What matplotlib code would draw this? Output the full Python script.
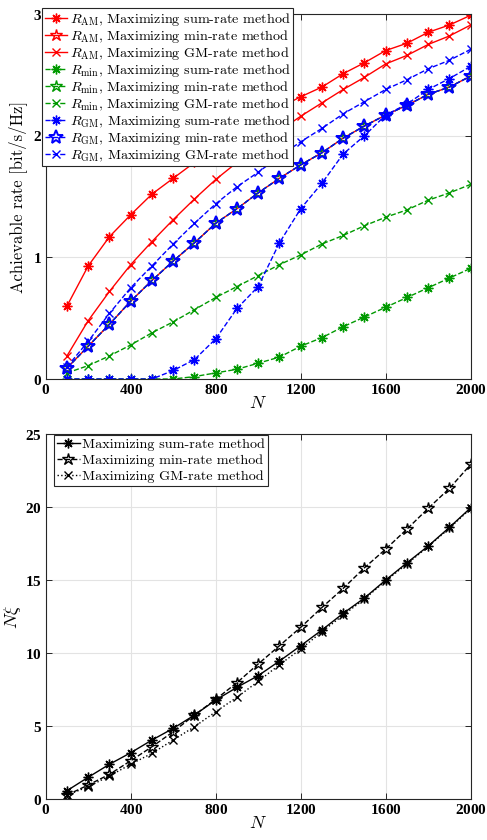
import numpy as np
import matplotlib
matplotlib.use("Agg")
import matplotlib.pyplot as plt

# Datos
N = [100, 200, 300, 400, 500, 600, 700, 800, 900, 1000,
     1100, 1200, 1300, 1400, 1500, 1600, 1700, 1800, 1900, 2000]

# Tasas alcanzables (grafica superior)
am_sum = [0.60, 0.93, 1.17, 1.35, 1.52, 1.65, 1.78, 1.90, 2.02, 2.13,
          2.23, 2.32, 2.40, 2.51, 2.60, 2.70, 2.76, 2.85, 2.91, 2.99]
am_gm = [0.19, 0.48, 0.72, 0.94, 1.13, 1.31, 1.48, 1.64, 1.78, 1.92,
         2.04, 2.16, 2.27, 2.38, 2.48, 2.59, 2.66, 2.75, 2.82, 2.91]
# Con max-min todas las tasas son iguales: AM = min = GM
eq_min = [0.09, 0.27, 0.45, 0.64, 0.81, 0.97, 1.12, 1.28, 1.40, 1.53,
          1.65, 1.76, 1.86, 1.98, 2.08, 2.17, 2.25, 2.34, 2.40, 2.49]
min_sum = [0.0, 0.0, 0.0, 0.0, 0.0, 0.0, 0.02, 0.05, 0.08, 0.13,
           0.18, 0.27, 0.34, 0.43, 0.51, 0.59, 0.67, 0.75, 0.83, 0.91]
min_gm = [0.05, 0.11, 0.19, 0.28, 0.38, 0.47, 0.57, 0.67, 0.76, 0.85,
          0.94, 1.02, 1.11, 1.18, 1.26, 1.33, 1.39, 1.47, 1.53, 1.60]
gm_sum = [0.0, 0.0, 0.0, 0.0, 0.0, 0.07, 0.16, 0.33, 0.58, 0.76,
          1.12, 1.40, 1.61, 1.85, 2.00, 2.17, 2.26, 2.38, 2.47, 2.57]
gm_gm = [0.10, 0.31, 0.54, 0.75, 0.93, 1.11, 1.28, 1.44, 1.58, 1.70,
         1.83, 1.95, 2.06, 2.18, 2.28, 2.38, 2.46, 2.55, 2.62, 2.71]

# N*xi (grafica inferior)
nxi_sum = [0.57, 1.49, 2.38, 3.17, 4.04, 4.84, 5.75, 6.78, 7.65, 8.45,
           9.45, 10.50, 11.58, 12.72, 13.77, 15.00, 16.18, 17.33, 18.61, 19.95]
nxi_min = [0.27, 0.96, 1.69, 2.62, 3.58, 4.61, 5.75, 6.83, 7.97, 9.25,
           10.50, 11.76, 13.12, 14.43, 15.84, 17.12, 18.49, 19.91, 21.28, 22.92]
nxi_gm = [0.27, 0.84, 1.58, 2.38, 3.13, 4.04, 4.95, 5.98, 6.97, 8.06,
          9.20, 10.27, 11.46, 12.60, 13.70, 14.95, 16.10, 17.30, 18.55, 19.90]

plt.rcParams["mathtext.fontset"] = "cm"
plt.rcParams["axes.formatter.use_mathtext"] = True

ASTER = (8, 2, 0)
VERDE = "#009900"
tick_font = {"family": "Liberation Serif", "weight": "bold", "size": 11}
leg_font = {"family": "cmr10", "size": 10.2}


def estilo_ejes(ax, yticks, ylim):
    ax.set_xlim(0, 2000)
    ax.set_ylim(*ylim)
    ax.set_xticks([0, 400, 800, 1200, 1600, 2000])
    ax.set_yticks(yticks)
    ax.grid(True, color="#e3e3e3", linewidth=0.8)
    ax.set_axisbelow(True)
    ax.tick_params(direction="in", top=True, right=True, length=4,
                   width=0.7, color="#262626", pad=3)
    for lab in ax.get_xticklabels() + ax.get_yticklabels():
        lab.set_fontproperties(tick_font)
    for s in ax.spines.values():
        s.set_color("#262626")
        s.set_linewidth(0.8)


fig = plt.figure(figsize=(4.87, 8.40), dpi=100)

# Grafica superior
ax1 = fig.add_axes([0.0939, 0.5488, 0.8727, 0.4345])
ka = dict(linewidth=1.0, markersize=7, markeredgewidth=1.0)   # asterisco
kx = dict(linewidth=1.0, markersize=6, markeredgewidth=1.0)   # cruz
ks = dict(linewidth=1.0, markersize=9, markeredgewidth=1.0, mfc="none")  # estrella
ax1.plot(N, am_sum, "-", color="red", marker=ASTER, label=r"$R_{\rm AM}$, Maximizing sum-rate method", **ka)
ax1.plot(N, eq_min, "-", color="red", marker="*", label=r"$R_{\rm AM}$, Maximizing min-rate method", **ks)
ax1.plot(N, am_gm, "-", color="red", marker="x", label=r"$R_{\rm AM}$, Maximizing GM-rate method", **kx)
ax1.plot(N, min_sum, "--", color=VERDE, marker=ASTER, label=r"$R_{\rm min}$, Maximizing sum-rate method", **ka)
ax1.plot(N, eq_min, "--", color=VERDE, marker="*", label=r"$R_{\rm min}$, Maximizing min-rate method", **ks)
ax1.plot(N, min_gm, "--", color=VERDE, marker="x", label=r"$R_{\rm min}$, Maximizing GM-rate method", **kx)
ax1.plot(N, gm_sum, "--", color="blue", marker=ASTER, label=r"$R_{\rm GM}$, Maximizing sum-rate method", **ka)
ax1.plot(N, eq_min, "--", color="blue", marker="*", mfc="none", markersize=10, linewidth=1.0, markeredgewidth=1.4,
         label=r"$R_{\rm GM}$, Maximizing min-rate method")
ax1.plot(N, gm_gm, "--", color="blue", marker="x", label=r"$R_{\rm GM}$, Maximizing GM-rate method", **kx)
estilo_ejes(ax1, [0, 1, 2, 3], (0, 3))
ax1.set_xlabel(r"$N$", fontsize=13, labelpad=-2)
ax1.set_ylabel("Achievable rate [bit/s/Hz]", fontfamily="cmr10", fontsize=12, labelpad=4)
leg1 = ax1.legend(loc="upper left", bbox_to_anchor=(-0.009, 1.017), prop=leg_font,
                  handlelength=1.6, handletextpad=0.15, labelspacing=0.0,
                  borderpad=0.2, borderaxespad=0, fancybox=False, framealpha=1,
                  edgecolor="#262626")
leg1.get_frame().set_linewidth(0.8)

# Grafica inferior
ax2 = fig.add_axes([0.0939, 0.0488, 0.8727, 0.4345])
ax2.plot(N, nxi_sum, "-", color="black", marker=ASTER, label="Maximizing sum-rate method", **ka)
ax2.plot(N, nxi_min, "--", color="black", marker="*", label="Maximizing min-rate method", **ks)
ax2.plot(N, nxi_gm, ":", color="black", marker="x", label="Maximizing GM-rate method", **kx)
estilo_ejes(ax2, [0, 5, 10, 15, 20, 25], (0, 25))
ax2.set_xlabel(r"$N$", fontsize=13, labelpad=-2)
ax2.set_ylabel(r"$N\xi$", fontsize=13, labelpad=1)
leg2 = ax2.legend(loc="upper left", bbox_to_anchor=(0.02, 0.998), prop=leg_font,
                  handlelength=1.6, handletextpad=0.15, labelspacing=0.25,
                  borderpad=0.2, borderaxespad=0, fancybox=False, framealpha=1,
                  edgecolor="#262626")
leg2.get_frame().set_linewidth(0.8)

fig.savefig("out.png", dpi=100)
